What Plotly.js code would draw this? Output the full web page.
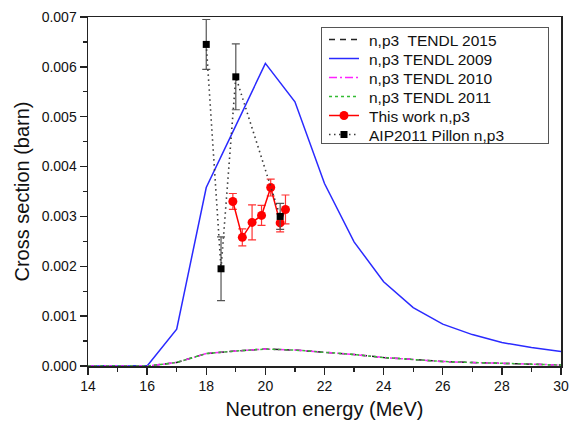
<!DOCTYPE html>
<html>
<head>
<meta charset="utf-8">
<script src="https://cdn.plot.ly/plotly-3.0.1.min.js"></script>
<style>html,body{margin:0;padding:0;background:#fff;}#chart{width:569px;height:426px;}</style>
</head>
<body>
<div id="chart"></div>
<script>
// TENDL evaluations (integer MeV grid)
var energyGrid = [14, 15, 16, 17, 18, 19, 20, 21, 22, 23, 24, 25, 26, 27, 28, 29, 30];
var tendl2015 = [0, 0, 0, 0.00007, 0.00025, 0.00030, 0.00034, 0.00032, 0.00028, 0.00023, 0.00017, 0.00013, 0.00009, 0.00007, 0.00005, 0.00003, 0.00002];
var tendl2009 = [0, 0, 0, 0.00074, 0.00358, 0.00482, 0.00607, 0.00530, 0.00366, 0.00249, 0.00169, 0.00117, 0.00084, 0.00063, 0.00047, 0.00037, 0.00029];
var tendl2010 = [0, 0, 0, 0.00007, 0.00025, 0.00030, 0.00034, 0.00032, 0.00028, 0.00023, 0.00017, 0.00013, 0.00009, 0.00007, 0.00005, 0.00003, 0.00002];
var tendl2011 = [0, 0, 0, 0.00007, 0.00025, 0.00030, 0.00034, 0.00032, 0.00028, 0.00023, 0.00017, 0.00013, 0.00009, 0.00007, 0.00005, 0.00003, 0.00002];

// This work
var thisWorkE = [18.9, 19.22, 19.55, 19.87, 20.18, 20.5, 20.68];
var thisWorkXS = [0.00330, 0.00258, 0.00288, 0.00302, 0.00358, 0.00287, 0.00314];
var thisWorkErr = [0.00016, 0.00017, 0.00035, 0.00020, 0.00017, 0.00018, 0.00029];

// AIP2011 Pillon
var pillonE = [18.0, 18.5, 19.0, 20.5];
var pillonXS = [0.00645, 0.00195, 0.00580, 0.00300];
var pillonErr = [0.00050, 0.00064, 0.00066, 0.00026];

var traces = [
  {x: energyGrid, y: tendl2015, mode: 'lines', name: 'n,p3  TENDL 2015',
   line: {color: '#222222', width: 1.5, dash: '6px,5px'}},
  {x: energyGrid, y: tendl2009, mode: 'lines', name: 'n,p3 TENDL 2009',
   line: {color: '#2a2aff', width: 1.5}},
  {x: energyGrid, y: tendl2010, mode: 'lines', name: 'n,p3 TENDL 2010',
   line: {color: '#ff22ff', width: 1.5, dash: '8px,3px,2px,3px'}},
  {x: energyGrid, y: tendl2011, mode: 'lines', name: 'n,p3 TENDL 2011',
   line: {color: '#33bb33', width: 1.5, dash: 'dot'}},
  {x: thisWorkE, y: thisWorkXS, mode: 'lines+markers', name: 'This work n,p3',
   line: {color: '#ff0000', width: 1.5},
   marker: {color: '#ff0000', size: 9, symbol: 'circle'},
   error_y: {type: 'data', array: thisWorkErr, visible: true, color: '#ff3333', thickness: 1.2, width: 4}},
  {x: pillonE, y: pillonXS, mode: 'lines+markers', name: 'AIP2011 Pillon n,p3',
   line: {color: '#3a3a3a', width: 1.6, dash: '1.5px,3.5px'},
   marker: {color: '#000000', size: 7, symbol: 'square'},
   error_y: {type: 'data', array: pillonErr, visible: true, color: '#555555', thickness: 1.2, width: 4}}
];

var layout = {
  width: 569, height: 426,
  margin: {l: 88, r: 8, t: 17, b: 60},
  paper_bgcolor: '#ffffff', plot_bgcolor: '#ffffff',
  font: {family: 'Liberation Sans, Arial, sans-serif', color: '#111111'},
  showlegend: true,
  legend: {x: 0.49, y: 0.97, xanchor: 'left', yanchor: 'top',
           bgcolor: 'rgba(255,255,255,1)', bordercolor: '#555555', borderwidth: 1,
           font: {size: 15.5, color: '#111111'}, tracegroupgap: 0, itemwidth: 30},
  xaxis: {
    range: [14, 30], tickvals: [14, 16, 18, 20, 22, 24, 26, 28, 30],
    ticks: 'outside', ticklen: 7, tickwidth: 1.3, tickcolor: '#222',
    minor: {dtick: 1, ticks: 'outside', ticklen: 4, tickwidth: 1.2, tickcolor: '#222', showgrid: false},
    showline: true, linecolor: '#222', linewidth: 1.5, mirror: true,
    showgrid: false, zeroline: false,
    tickfont: {size: 14},
    title: {text: 'Neutron energy (MeV)', font: {size: 20}, standoff: 8}
  },
  yaxis: {
    range: [0, 0.007], tickvals: [0, 0.001, 0.002, 0.003, 0.004, 0.005, 0.006, 0.007],
    ticktext: ['0.000', '0.001', '0.002', '0.003', '0.004', '0.005', '0.006', '0.007'],
    ticks: 'outside', ticklen: 7, tickwidth: 1.3, tickcolor: '#222',
    minor: {dtick: 0.0005, ticks: 'outside', ticklen: 4, tickwidth: 1.2, tickcolor: '#222', showgrid: false},
    showline: true, linecolor: '#222', linewidth: 1.5, mirror: true,
    showgrid: false, zeroline: false,
    tickfont: {size: 14},
    title: {text: 'Cross section (barn)', font: {size: 20}, standoff: 6}
  }
};

Plotly.newPlot('chart', traces, layout, {displayModeBar: false, staticPlot: true}).then(function (gd) {
  // tighten the legend to the reference's compact box (layout only, no data)
  var leg = gd.querySelector('g.legend');
  if (!leg) return;
  var boxLeft = 321, boxTop = 27, boxW = 227, boxH = 116, firstY = 12.5, step = 19, textShift = 5;
  leg.setAttribute('transform', 'translate(' + boxLeft + ',' + boxTop + ')');
  var bg = leg.querySelector('rect.bg');
  if (bg) {
    bg.setAttribute('x', 0.5); bg.setAttribute('y', 0.5);
    bg.setAttribute('width', boxW); bg.setAttribute('height', boxH);
  }
  var items = leg.querySelectorAll('g.traces');
  items.forEach(function (g, i) {
    var tr = g.getAttribute('transform') || '';
    var m = tr.match(/translate\(\s*([-\d.]+)/);
    var tx = m ? parseFloat(m[1]) : 1;
    g.setAttribute('transform', 'translate(' + (tx + 2) + ',' + (firstY + i * step) + ')');
    var t = g.querySelector('text.legendtext');
    if (t) {
      var x0 = parseFloat(t.getAttribute('x')) || 40;
      t.setAttribute('x', x0 + textShift);
    }
  });
  var clips = document.querySelectorAll('clipPath[id^="legend"] rect');
  clips.forEach(function (r) {
    r.setAttribute('width', boxW + 2); r.setAttribute('height', boxH + 2);
  });
});
</script>
</body>
</html>
